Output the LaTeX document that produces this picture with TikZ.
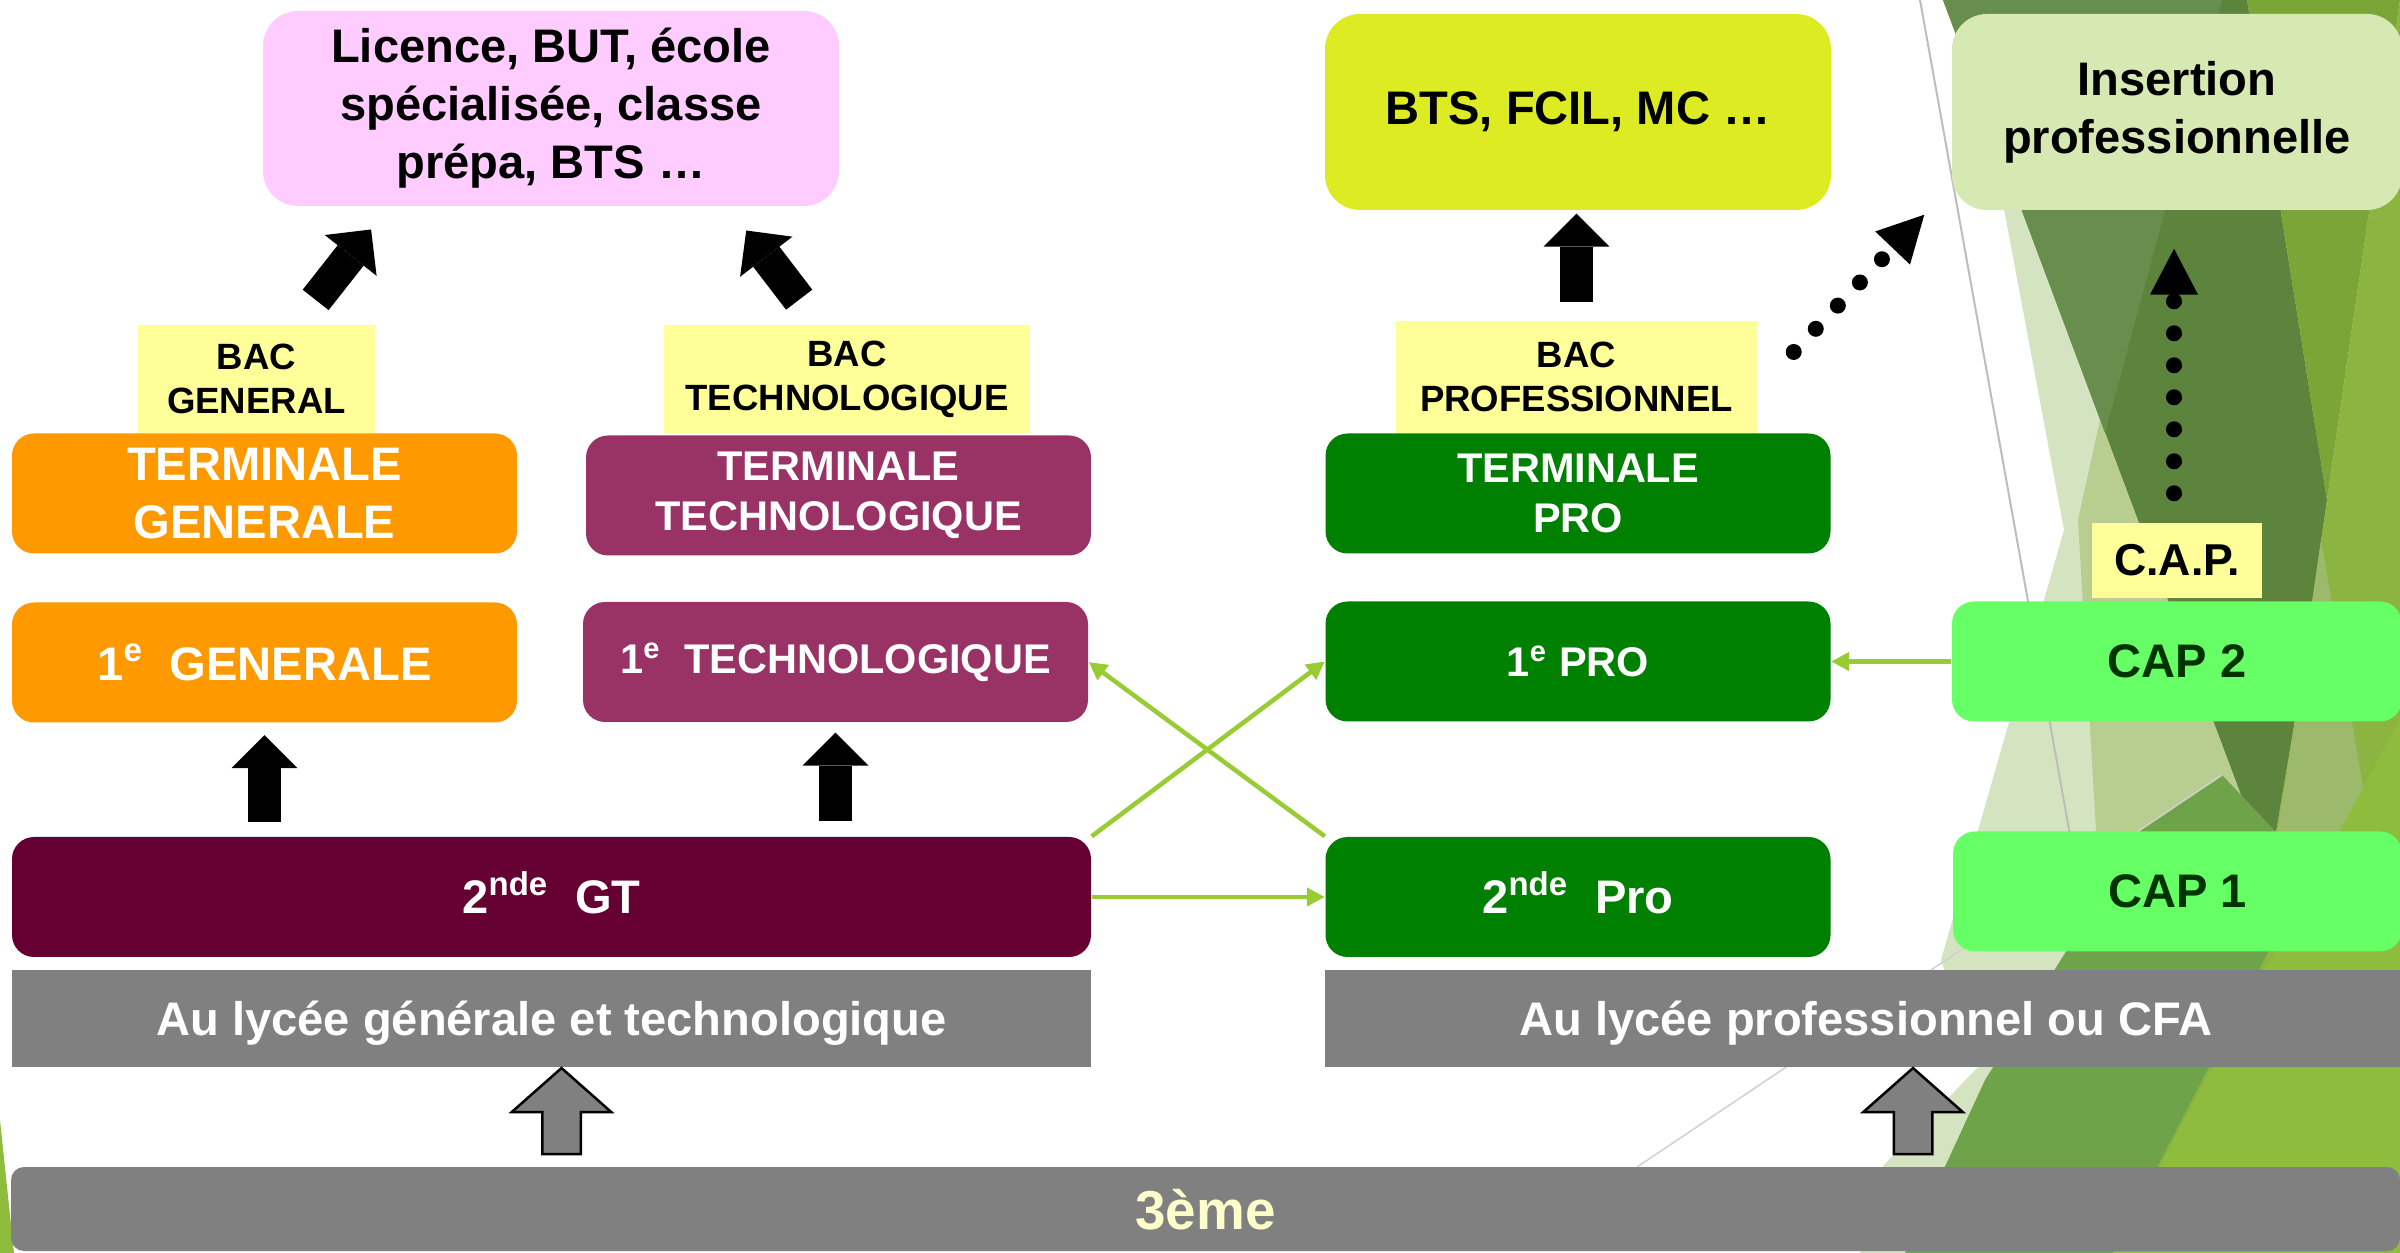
\documentclass[tikz,border=0pt]{standalone}
\usepackage{fontspec}
\setmainfont{Liberation Sans}
\usetikzlibrary{arrows.meta,shapes.arrows,calc}

\definecolor{licpink}{HTML}{FFCCFF}
\definecolor{btsyellow}{HTML}{DDEC22}
\definecolor{insertgreen}{HTML}{D7E9B2}
\definecolor{bacyellow}{HTML}{FFFF99}
\definecolor{genorange}{HTML}{FF9900}
\definecolor{techpurple}{HTML}{993366}
\definecolor{progreen}{HTML}{008000}
\definecolor{gtwine}{HTML}{660033}
\definecolor{capgreen}{HTML}{66FF66}
\definecolor{captext}{HTML}{003300}
\definecolor{bargrey}{HTML}{808080}
\definecolor{thirdtext}{HTML}{FFFFCC}
\definecolor{linkgreen}{HTML}{99CC33}
% facettes du fond
\definecolor{facetlight}{HTML}{D4E3C0}
\definecolor{facetpale}{HTML}{B8CE91}
\definecolor{facetdark}{HTML}{5D843C}
\definecolor{facetdarkb}{HTML}{678E4C}
\definecolor{facetright}{HTML}{7BA637}
\definecolor{facetrightb}{HTML}{8BB441}
\definecolor{facetband}{HTML}{9DBA6C}
\definecolor{facetmid}{HTML}{6FA34A}
\definecolor{facetbright}{HTML}{8EBC3C}
\definecolor{facetline}{HTML}{BDBDBD}

\begin{document}
\begin{tikzpicture}[x=0.1mm, y=-0.1mm]
    % Styles
    \tikzset{
        txtbig/.style={font={\fontsize{13.4}{16.5}\selectfont\bfseries}},
        txtmid/.style={font={\fontsize{11.8}{14.2}\selectfont\bfseries}},
        txtsmall/.style={font={\fontsize{10.4}{12.5}\selectfont\bfseries}},
        goal/.style={rectangle, rounded corners=3.5mm, inner sep=0pt, align=center, minimum height=19.5mm, txtbig},
        bac/.style={rectangle, fill=bacyellow, inner sep=0pt, align=center, txtsmall},
        stage/.style={rectangle, rounded corners=2.2mm, inner sep=0pt, align=center, text=white, minimum width=50.5mm, minimum height=12mm},
        bar/.style={rectangle, fill=bargrey, inner sep=0pt, minimum height=9.7mm, text=white, text depth=0pt, txtbig},
        block/.style={line width=3.3mm, -{Triangle[length=3.3mm, width=6.6mm, line width=0pt]}},
        dotarrow/.style={line width=1.6mm, line cap=round, dash pattern=on 0pt off 3.2mm, -{Triangle[length=4.6mm, width=4.8mm, line width=0pt]}},
        link/.style={draw=linkgreen, line width=0.45mm, -{Triangle[length=1.8mm, width=1.8mm]}},
        uparrow/.style={single arrow, draw=black, fill=bargrey, line width=0.25mm, inner xsep=0pt, inner ysep=1.8mm, minimum height=8.6mm, single arrow head extend=3.05mm, single arrow tip angle=97, rotate=90, anchor=tail}
    }

    \useasboundingbox (0,0) rectangle (2400,1253);
    \fill[white] (0,0) rectangle (2400,1253);

    % Fond a facettes
    \fill[facetlight] (1965,0) -- (2400,0) -- (2400,1253) -- (1860,1253) -- (1882,1167) -- (1978,1067) -- (1941,960) -- (2064,530) -- cycle;
    \fill[facetpale] (2100,420) -- (2330,420) -- (2330,900) -- (2100,900) -- (2078,520) -- cycle;
    \fill[facetdark] (1943,0) -- (2247,0) -- (2327,500) -- (2295,720) -- (2276,832) -- (2255,832) -- cycle;
    \fill[facetdarkb] (1943,0) -- (2222,0) -- (2105,433) -- cycle;
    \fill[facetright] (2247,0) -- (2400,0) -- (2327,500) -- cycle;
    \fill[facetrightb] (2400,0) -- (2400,1253) -- (2113,1253) -- (2276,832) -- (2295,720) -- (2327,500) -- cycle;
    \fill[facetband] (2321,540) -- (2372,840) -- (2276,840) -- (2295,720) -- cycle;
    \fill[facetmid] (2141,830) -- (2222,775) -- (2276,832) -- (2330,832) -- (2113,1253) -- (1905,1253) -- (1985,1080) -- (2062,958) -- cycle;
    \fill[facetbright] (2400,719) -- (2400,1253) -- (2113,1253) -- cycle;
    \fill[facetbright] (0,1120) -- (0,1253) -- (14,1253) -- cycle;
    \draw[facetline, line width=0.2mm] (1920,0) -- (2070,835);
    \draw[facetline!70, line width=0.15mm] (1637,1167) -- (2222,775);

    % Poursuites d'etudes
    \node[goal, fill=licpink, minimum width=57.6mm] (licence) at (551,108.5) {Licence, BUT, école\\spécialisée, classe\\prépa, BTS …};
    \node[goal, fill=btsyellow, minimum width=50.6mm, minimum height=19.6mm] (bts) at (1578,112) {BTS, FCIL, MC …};
    \node[goal, fill=insertgreen, minimum width=45mm, minimum height=19.6mm] (insertion) at (2177,112) {Insertion\\professionnelle};

    % Diplomes
    \node[bac, minimum width=23.7mm, minimum height=10.8mm] (bacg) at (256.5,379) {BAC\\GENERAL};
    \node[bac, minimum width=36.6mm, minimum height=10.8mm] (bact) at (847,379) {BAC\\TECHNOLOGIQUE};
    \node[bac, minimum width=36.1mm, minimum height=11.2mm] (bacp) at (1576.5,377) {BAC\\PROFESSIONNEL};
    \node[bac, minimum width=17mm, minimum height=7.5mm, font={\fontsize{12.7}{15}\selectfont\bfseries}] (cap) at (2177,560.5) {C.A.P.};

    % Classes
    \node[stage, fill=genorange, txtbig] (termg) at (264.5,493.5) {TERMINALE\\GENERALE};
    \node[stage, fill=techpurple, txtmid] (termt) at (838.5,495.5) {TERMINALE\\TECHNOLOGIQUE};
    \node[stage, fill=progreen, txtmid] (termp) at (1578,493.5) {TERMINALE\\PRO};
    \node[stage, fill=genorange, txtbig] (prg) at (264.5,662.5) {1\textsuperscript{e}~~GENERALE};
    \node[stage, fill=techpurple, txtmid] (prt) at (835.5,662) {1\textsuperscript{e}~~TECHNOLOGIQUE};
    \node[stage, fill=progreen, txtmid] (prp) at (1578,661.5) {1\textsuperscript{e} PRO};
    \node[stage, fill=capgreen, text=captext, txtbig, minimum width=45mm] (cap2) at (2177,661.5) {CAP 2};
    \node[stage, fill=gtwine, txtbig, minimum width=107.9mm, text height=9.6pt, text depth=0pt] (secgt) at (551.5,897) {2\textsuperscript{nde}~~GT};
    \node[stage, fill=progreen, txtbig, text height=9.6pt, text depth=0pt] (secpro) at (1578,897) {2\textsuperscript{nde}~~Pro};
    \node[stage, fill=capgreen, text=captext, txtbig, minimum width=44.9mm] (cap1) at (2177.5,891.5) {CAP 1};

    % Etablissements
    \node[bar, minimum width=107.9mm] (lgt) at (551.5,1018.5) {Au lycée générale et technologique};
    \node[bar, minimum width=108.2mm] (lpro) at (1866,1018.5) {Au lycée professionnel ou CFA};
    \node[bar, rounded corners=1.3mm, minimum width=238.9mm, minimum height=8.4mm, text=thirdtext, font={\fontsize{15.6}{18}\selectfont\bfseries}] (troisieme) at (1205.5,1209) {3ème};

    % Fleches pleines
    \draw[block, shorten <=3.1mm, shorten >=2.9mm] ([xshift=4mm]bacg.north) -- ([xshift=-16.2mm]licence.south);
    \draw[block, shorten <=3.1mm, shorten >=3mm] ([xshift=-2.9mm]bact.north) -- ([xshift=17.7mm]licence.south);
    \draw[block, shorten <=1.8mm, shorten >=0.3mm] (bacp.north) -- (bacp.north |- bts.south);
    \draw[block, shorten <=1.4mm, shorten >=1.2mm] (secgt.north -| prg.south) -- (prg.south);
    \draw[block, shorten <=1.5mm, shorten >=1mm] (secgt.north -| prt.south) -- (prt.south);

    % Fleches pointillees
    \draw[dotarrow] ([shift={(36,-25)}]bacp.east) -- ([shift={(-27,4)}]insertion.south west);
    \draw[dotarrow, shorten <=2.9mm, shorten >=3.8mm] ([xshift=-0.3mm]cap.north) -- ([xshift=-0.3mm]cap.north |- insertion.south);

    % Passerelles
    \draw[link] (secgt.east) -- (secpro.west);
    \draw[link] (secgt.north east) -- (prp.west);
    \draw[link] (secpro.north west) -- (prt.east);
    \draw[link] (cap2.west) -- (prp.east);

    % Orientation apres la 3eme
    \node[uparrow] (up1) at ($(troisieme.north -| lgt.south)+(10,-11)$) {};
    \node[uparrow] (up2) at ($(troisieme.north -| lpro.south)+(47,-11)$) {};
\end{tikzpicture}
\end{document}
